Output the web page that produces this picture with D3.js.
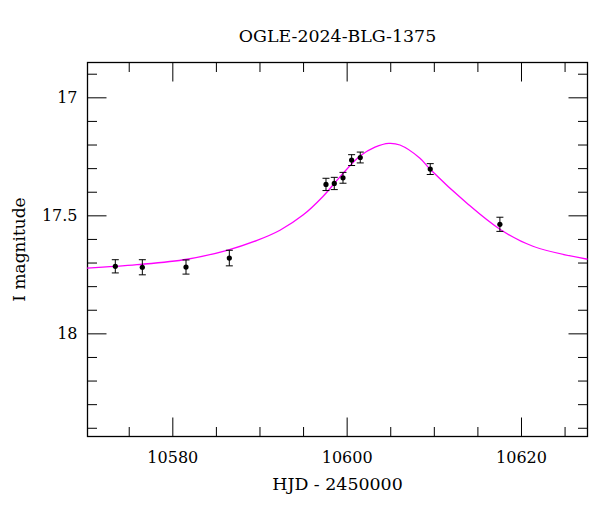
<!DOCTYPE html>
<html lang="en">
<head>
    <meta charset="utf-8" />
    <title>OGLE-2024-BLG-1375</title>
    <script src="https://d3js.org/d3.v7.min.js"></script>
    <style>
        body { margin: 0; background: #fff; }
        svg text { font-family: "DejaVu Serif", serif; fill: #000; }
    </style>
</head>
<body>
    <script>
        var w = 600;
        var h = 512;
        var padL = 87.5, padR = 587.5, padT = 62.5, padB = 436.5;

        // observed photometry: HJD - 2450000, I magnitude, error
        var obsHjd = [10573.46, 10576.56, 10581.57, 10586.54, 10597.63, 10598.58, 10599.58, 10600.57, 10601.56, 10609.59, 10617.58];
        var obsMag = [17.716, 17.720, 17.719, 17.681, 17.369, 17.365, 17.341, 17.266, 17.255, 17.304, 17.538];
        var obsErr = [0.028, 0.032, 0.030, 0.033, 0.026, 0.026, 0.023, 0.023, 0.023, 0.023, 0.030];

        // model curve
        var modelHjd = [10570.22, 10575.95, 10581.69, 10586.28, 10589.72, 10592.35, 10594.99, 10597.28, 10599.23, 10601.53, 10603.25, 10604.85, 10606.11, 10608.41, 10609.55, 10613.80, 10617.58, 10621.37, 10627.63];
        var modelMag = [17.724, 17.709, 17.686, 17.648, 17.606, 17.563, 17.499, 17.420, 17.337, 17.249, 17.211, 17.195, 17.202, 17.258, 17.304, 17.449, 17.559, 17.631, 17.686];

        var xMajor = [10580, 10600, 10620];
        var xMinor = [10575, 10585, 10590, 10595, 10605, 10610, 10615, 10625];
        var yMajor = [17, 17.5, 18];
        var yMinor = [16.9, 17.1, 17.2, 17.3, 17.4, 17.6, 17.7, 17.8, 17.9, 18.1, 18.2, 18.3, 18.4];

        var xScale = d3.scaleLinear()
            .domain([10570.27, 10627.63])
            .range([padL, padR]);

        var yScale = d3.scaleLinear()
            .domain([16.8525, 18.437])
            .range([padT, padB]);

        var svg = d3.select("body")
            .append("svg")
            .attr("width", w)
            .attr("height", h);

        // axes on all four sides, ticks pointing inward
        function drawAxis(axisFn, values, size, transform, labels) {
            var a = axisFn(axisFn === d3.axisBottom || axisFn === d3.axisTop ? xScale : yScale)
                .tickValues(values)
                .tickSize(-size)
                .tickPadding(size + 10)
                .tickFormat(labels ? d3.format("") : "");
            var g = svg.append("g")
                .attr("transform", transform)
                .call(a);
            g.select(".domain").remove();
            g.selectAll("line").attr("stroke", "#000").attr("stroke-width", 1);
            g.selectAll("text")
                .attr("font-family", "DejaVu Serif, serif")
                .attr("font-size", "16px")
                .attr("fill", "#000");
            return g;
        }

        drawAxis(d3.axisBottom, xMajor, 19, "translate(0," + padB + ")", true)
            .selectAll("text").attr("dy", "0").attr("y", 26.5);
        drawAxis(d3.axisBottom, xMinor, 9.5, "translate(0," + padB + ")", false);
        drawAxis(d3.axisTop, xMajor, 19, "translate(0," + padT + ")", false);
        drawAxis(d3.axisTop, xMinor, 9.5, "translate(0," + padT + ")", false);

        drawAxis(d3.axisLeft, yMajor, 19, "translate(" + padL + ",0)", true)
            .selectAll("text").attr("x", -10);
        drawAxis(d3.axisLeft, yMinor, 9.5, "translate(" + padL + ",0)", false);
        drawAxis(d3.axisRight, yMajor, 19, "translate(" + padR + ",0)", false);
        drawAxis(d3.axisRight, yMinor, 9.5, "translate(" + padR + ",0)", false);

        // frame
        svg.append("rect")
            .attr("x", padL)
            .attr("y", padT)
            .attr("width", padR - padL)
            .attr("height", padB - padT)
            .attr("fill", "none")
            .attr("stroke", "#000")
            .attr("stroke-width", 1.3);

        // model curve
        var model = modelHjd.map(function (d, i) { return [d, modelMag[i]]; });
        var line = d3.line()
            .x(function (d) { return xScale(d[0]); })
            .y(function (d) { return yScale(d[1]); })
            .curve(d3.curveCatmullRom.alpha(0.5));

        svg.append("path")
            .datum(model)
            .attr("d", line)
            .attr("fill", "none")
            .attr("stroke", "#ff00ff")
            .attr("stroke-width", 1.3);

        // data points with error bars
        var obs = obsHjd.map(function (d, i) { return { t: d, m: obsMag[i], e: obsErr[i] }; });
        var pts = svg.append("g").selectAll("g")
            .data(obs)
            .enter()
            .append("g")
            .attr("stroke", "#000")
            .attr("stroke-width", 1);

        pts.append("line")
            .attr("x1", function (d) { return xScale(d.t); })
            .attr("x2", function (d) { return xScale(d.t); })
            .attr("y1", function (d) { return yScale(d.m - d.e); })
            .attr("y2", function (d) { return yScale(d.m + d.e); });
        pts.append("line")
            .attr("x1", function (d) { return xScale(d.t) - 3.5; })
            .attr("x2", function (d) { return xScale(d.t) + 3.5; })
            .attr("y1", function (d) { return yScale(d.m - d.e); })
            .attr("y2", function (d) { return yScale(d.m - d.e); });
        pts.append("line")
            .attr("x1", function (d) { return xScale(d.t) - 3.5; })
            .attr("x2", function (d) { return xScale(d.t) + 3.5; })
            .attr("y1", function (d) { return yScale(d.m + d.e); })
            .attr("y2", function (d) { return yScale(d.m + d.e); });
        pts.append("circle")
            .attr("cx", function (d) { return xScale(d.t); })
            .attr("cy", function (d) { return yScale(d.m); })
            .attr("r", 2.6)
            .attr("stroke", "none")
            .attr("fill", "#000");

        // title and axis labels
        svg.append("text")
            .attr("text-anchor", "middle")
            .attr("x", (padL + padR) / 2)
            .attr("y", 42)
            .attr("font-size", "17.4px")
            .text("OGLE-2024-BLG-1375");

        svg.append("text")
            .attr("text-anchor", "middle")
            .attr("x", (padL + padR) / 2)
            .attr("y", 490)
            .attr("font-size", "17.4px")
            .text("HJD - 2450000");

        svg.append("text")
            .attr("text-anchor", "middle")
            .attr("transform", "rotate(-90)")
            .attr("x", -(padT + padB) / 2)
            .attr("y", 25)
            .attr("font-size", "17px")
            .text("I magnitude");
    </script>
</body>
</html>
